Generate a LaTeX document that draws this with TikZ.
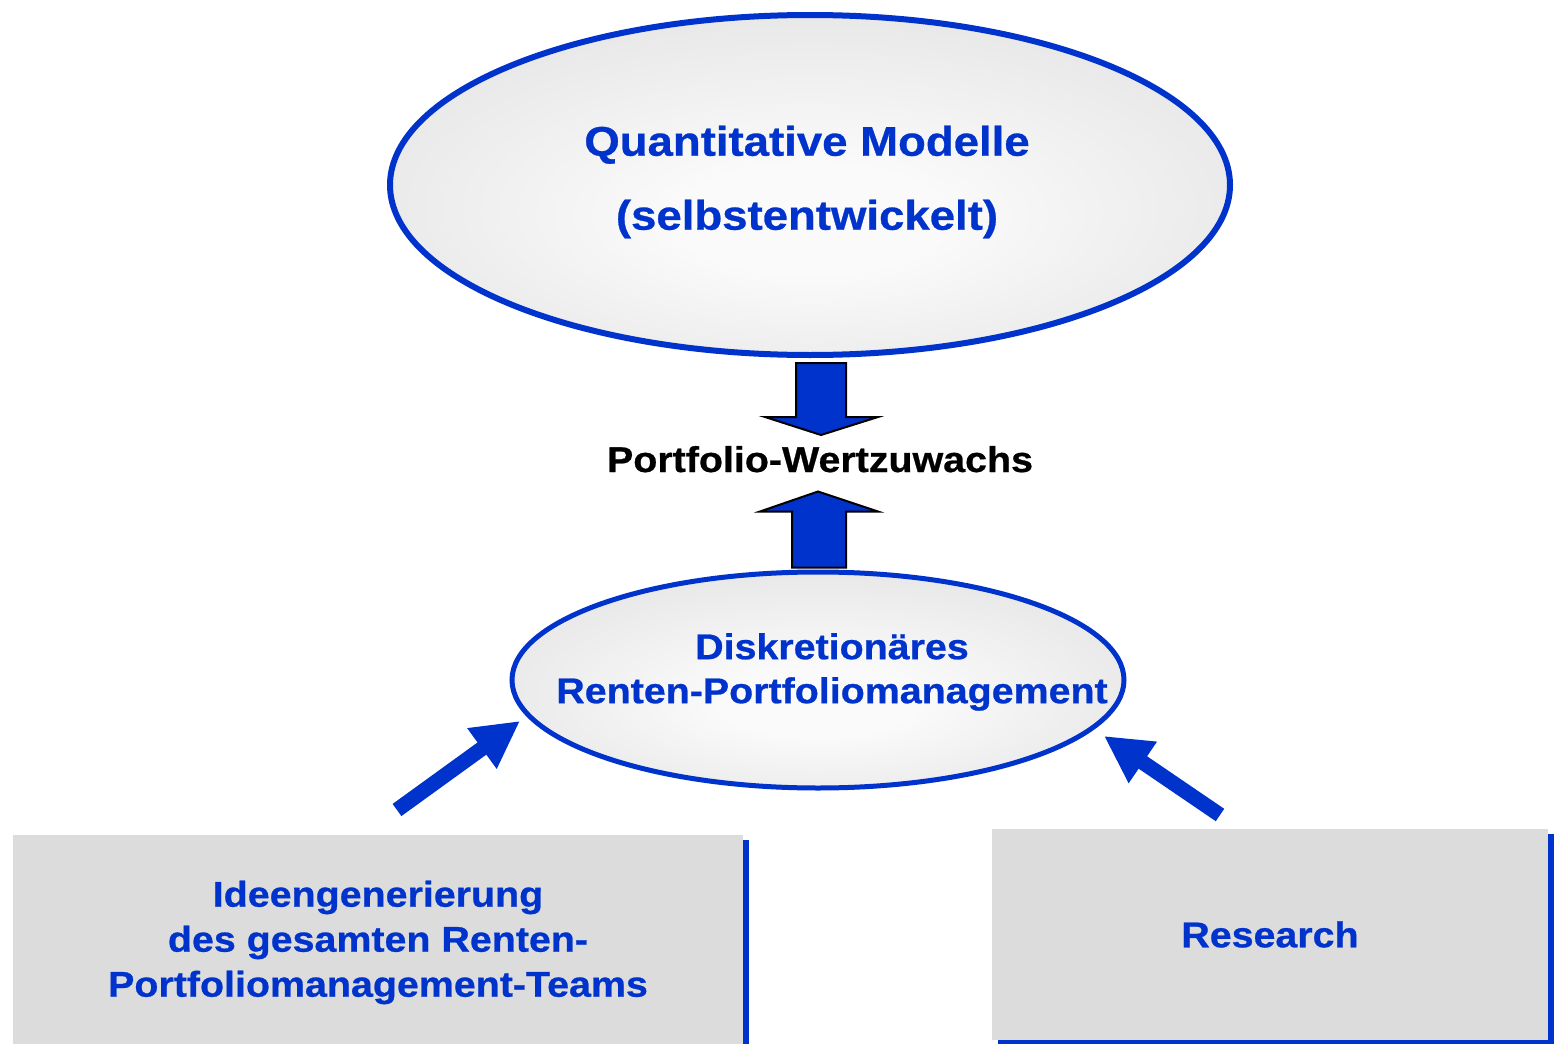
\documentclass[tikz,border=0pt]{standalone}
\usepackage{fontspec}
\setmainfont{Liberation Sans}[FakeStretch=1.1,FakeBold=0.7]
\usetikzlibrary{shapes.geometric,arrows.meta,calc,shadows}
\definecolor{dblue}{RGB}{0,51,204}
\definecolor{boxgray}{RGB}{220,220,220}
\definecolor{ellgray}{RGB}{212,212,212}
\definecolor{ellwhite}{RGB}{250,250,250}
\pgfdeclareradialshading{ellshade}{\pgfpoint{0bp}{-6bp}}{color(0bp)=(ellwhite); color(8bp)=(ellwhite); color(50bp)=(ellgray)}
\begin{document}
\begin{tikzpicture}[x=0.5pt,y=-0.5pt,
  ell/.style={ellipse,draw=dblue,shading=ellshade,inner sep=0pt},
  labtext/.style={font=\bfseries\fontsize{17.9}{22}\selectfont,text=dblue,align=center,inner sep=0pt},
  graybox/.style={rectangle,fill=boxgray,inner sep=0pt,
    general shadow={fill=dblue,shadow xshift=2.75pt,shadow yshift=-2.5pt}},
  blockarrow/.style={fill=dblue,draw=black,line width=1pt,line join=miter},
  diagarrow/.style={draw=dblue,line width=7.5pt,-{Triangle[length=23.5pt,width=23.5pt]}}
]
\useasboundingbox (0,0) rectangle (1560,1044);
\fill[white] (0,0) rectangle (1560,1044);

% top ellipse
\node[ell,line width=3pt,minimum width=420pt,minimum height=170pt] (qm) at (810,185) {};
\node[labtext,font=\bfseries\fontsize{20.7}{37}\selectfont] (qmtext) at ($(qm.center)+(-3,-3)$)
  {Quantitative Modelle\\(selbstentwickelt)};

% bottom ellipse
\node[ell,line width=2.5pt,minimum width=306pt,minimum height=108pt] (dr) at (818,680) {};
\node[labtext] (drtext) at ($(dr.center)+(14,-8)$)
  {Diskretionäres\\Renten-Portfoliomanagement};

% middle label
\node[anchor=base,inner sep=0pt,font=\bfseries\fontsize{17.9}{22}\selectfont,text=black] (pw) at (820,472) {Portfolio-Wertzuwachs};

% block arrows
\draw[blockarrow] ($(qm.south)+(-14,5)$) -- ++(50,0) -- ++(0,54) -- ++(32,0)
  -- ($(qm.south)+(11,77)$) -- ++(-56,-18) -- ++(31,0) -- cycle;
\draw[blockarrow] ($(dr.north)+(-26,-2)$) -- ++(0,-56) -- ++(-32,0)
  -- ($(dr.north)+(0,-78)$) -- ++(60,20) -- ++(-32,0) -- ++(0,56) -- cycle;

% boxes
\node[graybox,labtext,font=\bfseries\fontsize{17.9}{22.5}\selectfont,minimum width=365pt,minimum height=107.5pt] (idee) at (378,942.5)
  {Ideengenerierung\\des gesamten Renten-\\Portfoliomanagement-Teams};
\node[graybox,labtext,minimum width=278pt,minimum height=105.5pt] (res) at (1270,934.5) {Research};

% diagonal arrows
\coordinate (ls) at (397,810);
\coordinate (rs) at (1220,815);
\draw[diagarrow] (ls) -- ($(dr.center)+(-298,41)$);
\draw[diagarrow] (rs) -- ($(dr.center)+(286,56)$);
\end{tikzpicture}
\end{document}
